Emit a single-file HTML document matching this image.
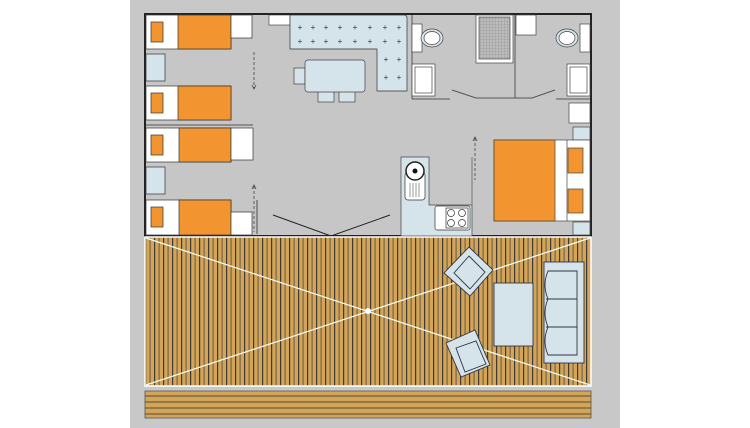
<!DOCTYPE html>
<html><head><meta charset="utf-8"><style>html,body{margin:0;padding:0;background:#fff}svg{display:block}</style></head>
<body>
<svg width="750" height="428" viewBox="0 0 750 428" xmlns="http://www.w3.org/2000/svg">
<defs>
<pattern id="deck" x="145" y="0" width="9" height="10" patternUnits="userSpaceOnUse">
<rect width="9" height="10" fill="#d2a558"/>
<rect x="0" width="1.2" height="10" fill="#3f3a33"/>
<rect x="4.5" width="1.2" height="10" fill="#7a6545"/>
</pattern>
<pattern id="grid" width="3" height="3" patternUnits="userSpaceOnUse">
<rect width="3" height="3" fill="#bcbcbc"/><path d="M0 0H3M0 0V3" stroke="#8a8a8a" stroke-width="0.6"/>
</pattern>
</defs>
<rect width="750" height="428" fill="#fff"/>
<rect x="130" y="0" width="490" height="428" fill="#c8c8c9"/>
<!-- interior -->
<rect x="145" y="14" width="446" height="222" fill="#c6c6c7" stroke="#222" stroke-width="2"/>
<!-- left beds -->
<g stroke="#333" stroke-width="0.7">
<rect x="146" y="15" width="85" height="34" fill="#fff"/><rect x="178" y="15" width="53" height="34" fill="#f29430"/><rect x="151" y="22" width="12" height="20" fill="#f29430"/>
<rect x="231" y="15" width="21" height="23" fill="#fff"/>
<rect x="146" y="54" width="19" height="27" fill="#d5e3ea"/>
<rect x="146" y="86" width="85" height="34" fill="#fff"/><rect x="178" y="86" width="53" height="34" fill="#f29430"/><rect x="151" y="93" width="12" height="20" fill="#f29430"/>
<rect x="146" y="128" width="85" height="34" fill="#fff"/><rect x="179" y="128" width="52" height="34" fill="#f29430"/><rect x="151" y="135" width="12" height="20" fill="#f29430"/>
<rect x="231" y="128" width="22" height="32" fill="#fff"/>
<rect x="146" y="167" width="19" height="27" fill="#d5e3ea"/>
<rect x="146" y="200" width="85" height="35" fill="#fff"/><rect x="179" y="200" width="52" height="35" fill="#f29430"/><rect x="151" y="207" width="12" height="20" fill="#f29430"/>
<rect x="231" y="212" width="21" height="23" fill="#fff"/>
</g>
<line x1="146" y1="125" x2="253" y2="125" stroke="#555" stroke-width="1"/>
<line x1="257" y1="200" x2="257" y2="234" stroke="#777" stroke-width="1.5"/>
<g stroke="#444" stroke-width="0.8" fill="none">
<line x1="254" y1="52" x2="254" y2="88" stroke-dasharray="3,2"/><path d="M252 85 L254 89 L256 85"/>
<line x1="254" y1="186" x2="254" y2="232" stroke-dasharray="3,2"/><path d="M252 189 L254 185 L256 189"/>
<line x1="475" y1="138" x2="475" y2="180" stroke-dasharray="3,2"/><path d="M473 141 L475 137 L477 141"/>
</g>
<!-- kitchen counter & table -->
<rect x="269" y="15" width="21" height="10" fill="#fff" stroke="#333" stroke-width="0.6"/>
<path d="M290 15 H404 Q407 15 407 18 V91 H377 V49 H290 Z" fill="#d5e3ea" stroke="#333" stroke-width="0.7"/>
<g font-family="Liberation Sans,sans-serif" font-size="8" fill="#333" text-anchor="middle">
<text x="300" y="30">+</text><text x="313" y="30">+</text><text x="326" y="30">+</text><text x="340" y="30">+</text><text x="355" y="30">+</text><text x="370" y="30">+</text><text x="385" y="30">+</text><text x="399" y="30">+</text>
<text x="300" y="44">+</text><text x="313" y="44">+</text><text x="326" y="44">+</text><text x="340" y="44">+</text><text x="355" y="44">+</text><text x="370" y="44">+</text><text x="385" y="44">+</text><text x="399" y="44">+</text>
<text x="386" y="62">+</text><text x="399" y="62">+</text><text x="386" y="80">+</text><text x="399" y="80">+</text>
</g>
<g fill="#d5e3ea" stroke="#444" stroke-width="0.7">
<rect x="294" y="68" width="11" height="16"/><rect x="318" y="91" width="16" height="11"/><rect x="339" y="91" width="16" height="11"/>
<rect x="305" y="60" width="60" height="32" rx="3"/>
</g>
<!-- door swing -->
<path d="M273 215 L331 236 L390 215" fill="none" stroke="#222" stroke-width="1"/>
<!-- bathrooms -->
<g stroke="#555" stroke-width="1" fill="none">
<line x1="412" y1="15" x2="412" y2="99"/>
<line x1="515" y1="15" x2="515" y2="98"/>
<path d="M412 99 H450 M452 90 L476 98 H532 L555 90 M556 99 H590"/>
</g>
<g stroke="#444" stroke-width="0.7">
<rect x="412" y="24" width="10" height="28" fill="#fff"/>
<ellipse cx="432" cy="38" rx="11" ry="9" fill="#d5e3ea"/><ellipse cx="432" cy="38" rx="8" ry="6.5" fill="#fff"/>
<rect x="412" y="64" width="23" height="32" fill="#fff"/><rect x="415" y="67" width="17" height="26" fill="#fff"/>
<rect x="476" y="15" width="37" height="48" fill="#fff"/><rect x="479" y="17" width="31" height="42" fill="url(#grid)"/>
<rect x="516" y="15" width="20" height="20" fill="#fff"/>
<rect x="580" y="24" width="10" height="28" fill="#fff"/>
<ellipse cx="567" cy="38" rx="11" ry="9" fill="#d5e3ea"/><ellipse cx="567" cy="38" rx="8" ry="6.5" fill="#fff"/>
<rect x="567" y="64" width="23" height="32" fill="#fff"/><rect x="570" y="67" width="17" height="26" fill="#fff"/>
<rect x="569" y="103" width="21" height="20" fill="#fff"/>
<rect x="573" y="127" width="17" height="13" fill="#d5e3ea"/>
<rect x="573" y="222" width="17" height="13" fill="#d5e3ea"/>
<rect x="494" y="140" width="96" height="81" fill="#fff"/>
<rect x="494" y="140" width="61" height="81" fill="#f29430"/>
<rect x="568" y="148" width="15" height="25" fill="#f29430"/><rect x="568" y="189" width="15" height="24" fill="#f29430"/>
</g>
<line x1="567" y1="140" x2="567" y2="221" stroke="#444" stroke-width="0.7"/>
<!-- kitchenette -->
<path d="M401 157 H429 V205 H472 V236 H401 Z" fill="#d5e3ea" stroke="#444" stroke-width="0.7"/>
<line x1="472" y1="157" x2="472" y2="205" stroke="#777" stroke-width="1"/>
<rect x="405" y="172" width="20" height="28" rx="3" fill="#fff" stroke="#333" stroke-width="0.7"/>
<circle cx="415" cy="171" r="9" fill="#fff" stroke="#222" stroke-width="1.5"/><circle cx="415" cy="171" r="2.5" fill="#111"/>
<g stroke="#555" stroke-width="0.6"><line x1="410" y1="183" x2="410" y2="197"/><line x1="413" y1="183" x2="413" y2="197"/><line x1="416" y1="183" x2="416" y2="197"/><line x1="419" y1="183" x2="419" y2="197"/></g>
<rect x="435" y="206" width="35" height="24" rx="2" fill="#fff" stroke="#333" stroke-width="0.7"/>
<g fill="none" stroke="#333" stroke-width="0.7"><rect x="446" y="208" width="22" height="20"/><circle cx="451" cy="213" r="3.5"/><circle cx="462" cy="213" r="3.5"/><circle cx="451" cy="223" r="3.5"/><circle cx="462" cy="223" r="3.5"/></g>
<!-- deck -->
<rect x="145" y="237" width="446" height="149" fill="url(#deck)" stroke="#fff" stroke-width="1.5"/>
<g stroke="#fff" stroke-width="1.2"><line x1="146" y1="238" x2="590" y2="385"/><line x1="146" y1="385" x2="590" y2="238"/></g>
<circle cx="368" cy="311" r="3" fill="#fff"/>
<g fill="#d5e3ea" stroke="#334" stroke-width="0.9">
<polygon points="469,247 493,270 470,296 444,273"/>
<polygon points="469,256 485,272 470,289 454,273" fill="none"/>
<polygon points="446,343 475,330 490,365 461,377"/>
<polygon points="456,348 476,341 486,364 465,372" fill="none"/>
<rect x="494" y="283" width="39" height="63"/>
<rect x="544" y="262" width="40" height="101"/>
<path d="M548 271 H577 V355 H548 Q542 341 548 327 Q542 313 548 299 Q542 285 548 271 Z"/>
<line x1="546" y1="299" x2="577" y2="299"/><line x1="546" y1="327" x2="577" y2="327"/>
</g>
<!-- lower strip -->
<rect x="145" y="391" width="446" height="27" fill="#d2a558" stroke="#555" stroke-width="0.8"/>
<g stroke="#5a4a35" stroke-width="1"><line x1="145" y1="396" x2="591" y2="396"/><line x1="145" y1="402" x2="591" y2="402"/><line x1="145" y1="408" x2="591" y2="408"/><line x1="145" y1="414" x2="591" y2="414"/></g>
</svg>
</body></html>
